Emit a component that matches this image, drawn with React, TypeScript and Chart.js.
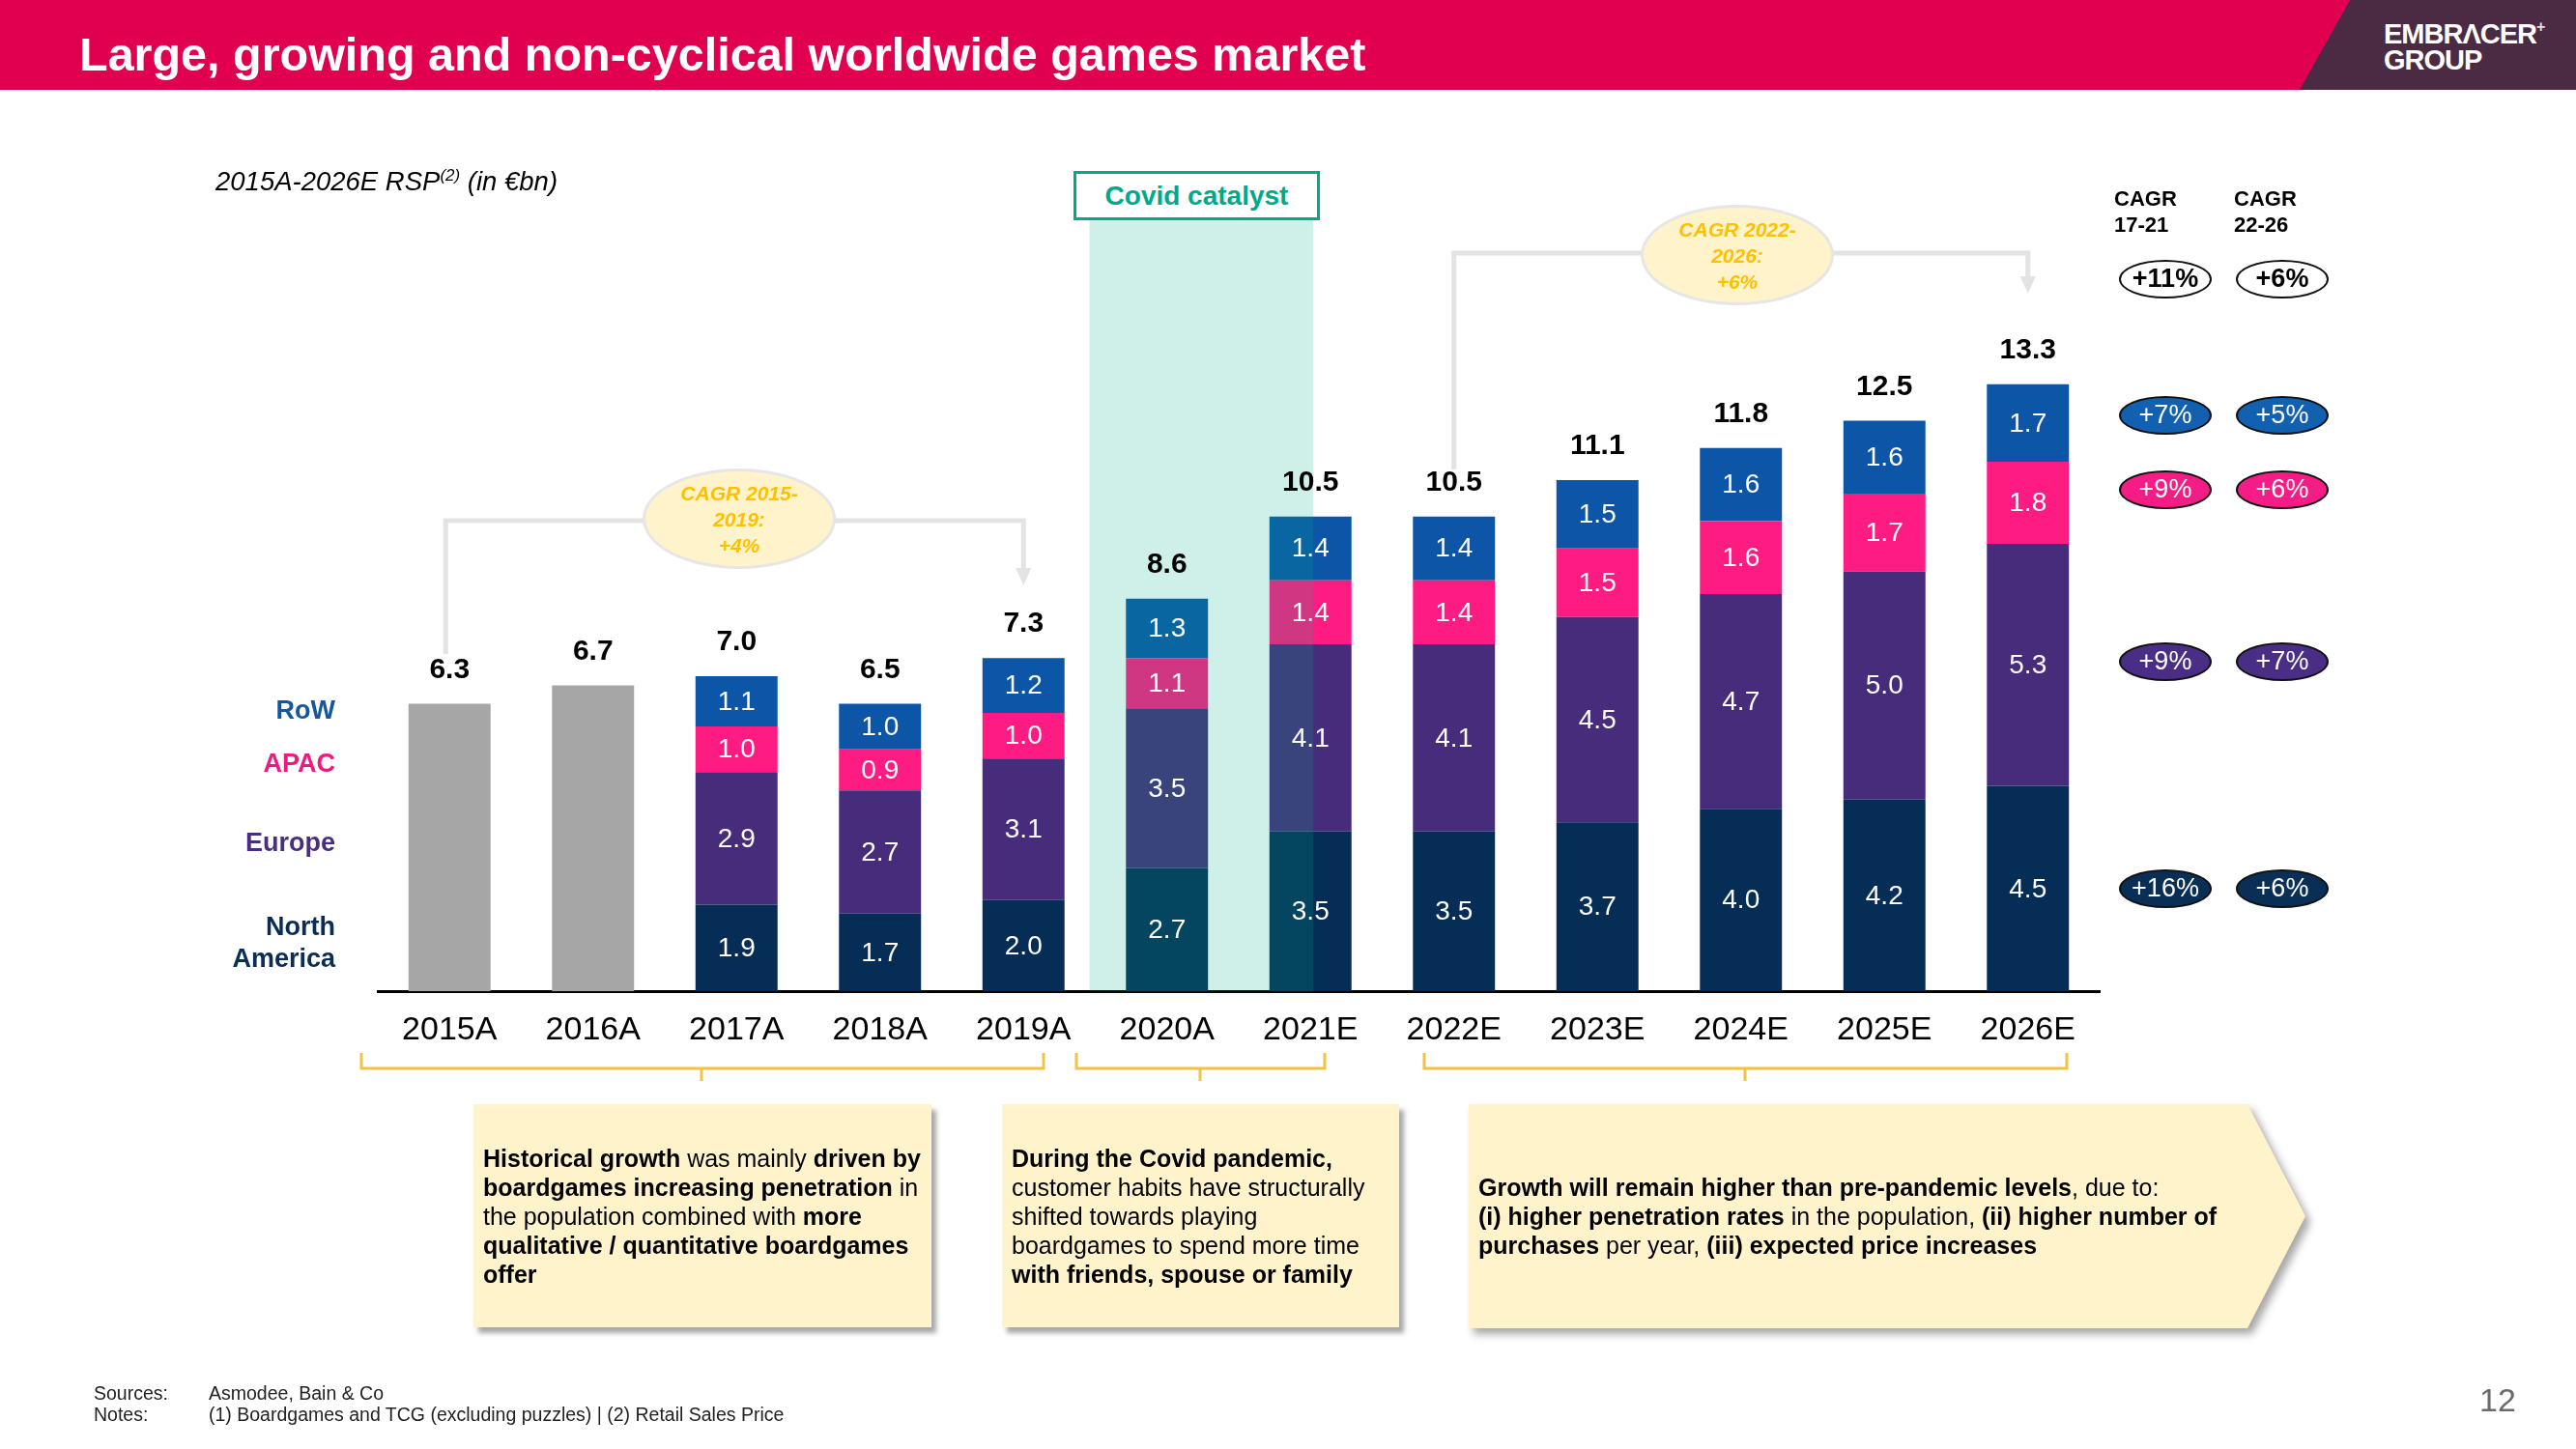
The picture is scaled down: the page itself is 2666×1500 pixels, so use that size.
import React, { useEffect, useRef } from 'react';
import { Chart, registerables } from 'chart.js';

Chart.register(...registerables);

const FONT = '"Liberation Sans", Arial, Helvetica, sans-serif';

// ---------- DATA ----------
const years = ['2015A', '2016A', '2017A', '2018A', '2019A', '2020A', '2021E', '2022E', '2023E', '2024E', '2025E', '2026E'];
const unsplitTotal = [6.3, 6.7, null, null, null, null, null, null, null, null, null, null];
const northAmerica = [null, null, 1.9, 1.7, 2.0, 2.7, 3.5, 3.5, 3.7, 4.0, 4.2, 4.5];
const europe = [null, null, 2.9, 2.7, 3.1, 3.5, 4.1, 4.1, 4.5, 4.7, 5.0, 5.3];
const apac = [null, null, 1.0, 0.9, 1.0, 1.1, 1.4, 1.4, 1.5, 1.6, 1.7, 1.8];
const restOfWorld = [null, null, 1.1, 1.0, 1.2, 1.3, 1.4, 1.4, 1.5, 1.6, 1.6, 1.7];
const totalLabels = [6.3, 6.7, 7.0, 6.5, 7.3, 8.6, 10.5, 10.5, 11.1, 11.8, 12.5, 13.3];

const cagrHeaders = [['CAGR', '17-21'], ['CAGR', '22-26']];
const cagr1721 = ['+11%', '+7%', '+9%', '+9%', '+16%'];
const cagr2226 = ['+6%', '+5%', '+6%', '+7%', '+6%'];
const regionNames = ['RoW', 'APAC', 'Europe', 'North America'];

// ---------- STYLE ----------
const C_NA = '#062D56';
const C_EU = '#472C7B';
const C_APAC = '#FF1C82';
const C_ROW = '#0C55A7';
const C_GRAY = '#A6A6A6';
const C_RED = '#E1004F';
const C_PLUM = '#4B2B43';
const C_GREEN = '#00A98A';

const decorPlugin = {
  id: 'slideDecor',
  afterDatasetsDraw(chart: any) {
    const { ctx, chartArea } = chart;
    const xs = chart.scales.x;
    const step = xs.getPixelForValue(1) - xs.getPixelForValue(0);
    ctx.save();
    // covid overlay
    const l = xs.getPixelForValue(5) - 0.54 * step;
    const r = xs.getPixelForValue(6) + 0.02 * step;
    ctx.fillStyle = 'rgba(0,176,139,0.19)';
    ctx.fillRect(l, 228, r - l, chartArea.bottom - 228);

    // segment labels
    ctx.font = `28px ${FONT}`;
    ctx.fillStyle = '#fff';
    ctx.textAlign = 'center';
    ctx.textBaseline = 'middle';
    chart.data.datasets.forEach((ds: any, di: number) => {
      if (di === 0) return;
      const meta = chart.getDatasetMeta(di);
      meta.data.forEach((el: any, j: number) => {
        const v = ds.data[j];
        if (v == null) return;
        const p = el.getProps(['x', 'y', 'base'], true);
        ctx.fillText(Number(v).toFixed(1), p.x, (p.y + p.base) / 2 + 1);
      });
    });

    // totals
    ctx.font = `bold 30px ${FONT}`;
    ctx.fillStyle = '#000';
    years.forEach((_, j) => {
      let top = Infinity;
      let bx = 0;
      chart.data.datasets.forEach((ds: any, di: number) => {
        if (ds.data[j] == null) return;
        const el = chart.getDatasetMeta(di).data[j];
        const p = el.getProps(['x', 'y'], true);
        if (p.y < top) { top = p.y; bx = p.x; }
      });
      if (top < Infinity) ctx.fillText(totalLabels[j].toFixed(1), bx, top - 35);
    });
    ctx.restore();
  },
  afterDraw(chart: any) {
    const { ctx } = chart;
    const xs = chart.scales.x;
    const px = (i: number) => xs.getPixelForValue(i);
    ctx.save();
    // connectors
    ctx.strokeStyle = '#E3E3E3';
    ctx.fillStyle = '#E3E3E3';
    ctx.lineWidth = 5;
    const conn = (x1: number, yStart: number, yTop: number, x2: number, yTip: number) => {
      ctx.beginPath();
      ctx.moveTo(x1, yStart);
      ctx.lineTo(x1, yTop);
      ctx.lineTo(x2, yTop);
      ctx.lineTo(x2, yTip - 16);
      ctx.stroke();
      ctx.beginPath();
      ctx.moveTo(x2 - 8, yTip - 18);
      ctx.lineTo(x2 + 8, yTip - 18);
      ctx.lineTo(x2, yTip);
      ctx.closePath();
      ctx.fill();
    };
    conn(px(0) - 4, 677, 539, px(4), 606);
    conn(px(7), 486, 262, px(11), 304);

    // brackets
    ctx.strokeStyle = '#F0C245';
    ctx.lineWidth = 3;
    const brackets = [[374, 1080, 726], [1114, 1371, 1242], [1474, 2139, 1806]];
    brackets.forEach(([a, b, m]) => {
      ctx.beginPath();
      ctx.moveTo(a, 1090);
      ctx.lineTo(a, 1106);
      ctx.lineTo(b, 1106);
      ctx.lineTo(b, 1090);
      ctx.moveTo(m, 1106);
      ctx.lineTo(m, 1119);
      ctx.stroke();
    });
    ctx.restore();
  },
};

function Txt(props: any) {
  const { x, y, size, align = 'left', bold, italic, color = '#000', children } = props;
  const L = Math.round(size * 1.2);
  const transform = align === 'center' ? 'translateX(-50%)' : align === 'right' ? 'translateX(-100%)' : undefined;
  return (
    <div
      style={{
        position: 'absolute',
        left: x,
        top: y - L / 2,
        fontSize: size,
        lineHeight: `${L}px`,
        fontWeight: bold ? 700 : 400,
        fontStyle: italic ? 'italic' : 'normal',
        color,
        whiteSpace: 'nowrap',
        transform,
        textAlign: align,
      }}
    >
      {children}
    </div>
  );
}

function Bubble(props: any) {
  const { cx, cy, lines } = props;
  return (
    <div
      style={{
        position: 'absolute',
        left: cx - 100,
        top: cy - 52,
        width: 200,
        height: 104,
        boxSizing: 'border-box',
        borderRadius: '50%',
        background: '#FFF3CB',
        border: '3px solid #E6E6E6',
        display: 'flex',
        alignItems: 'center',
        justifyContent: 'center',
        textAlign: 'center',
        color: '#FFC000',
        fontStyle: 'italic',
        fontWeight: 700,
        fontSize: 21,
        lineHeight: '27px',
      }}
    >
      <div>
        {lines.map((s: string, i: number) => (
          <div key={i}>{s}</div>
        ))}
      </div>
    </div>
  );
}

function Pill(props: any) {
  const { cx, cy, bg, color, bold, text } = props;
  return (
    <div
      style={{
        position: 'absolute',
        left: cx - 48,
        top: cy - 20,
        width: 96,
        height: 40,
        boxSizing: 'border-box',
        borderRadius: '50%',
        background: bg,
        border: '2.5px solid #111',
        color,
        fontWeight: bold ? 700 : 400,
        fontSize: 27,
        lineHeight: '35px',
        textAlign: 'center',
      }}
    >
      {text}
    </div>
  );
}

const boxBase: any = {
  position: 'absolute',
  top: 1143,
  height: 231,
  boxSizing: 'border-box',
  background: '#FEF3CB',
  display: 'flex',
  alignItems: 'center',
  paddingLeft: 10,
  fontSize: 25,
  lineHeight: '30px',
  color: '#000',
  whiteSpace: 'nowrap',
};

export default function App() {
  const ref = useRef<HTMLCanvasElement>(null);

  useEffect(() => {
    document.body.style.margin = '0';
    Chart.defaults.font.family = FONT;
    const chart = new Chart(ref.current as HTMLCanvasElement, {
      type: 'bar',
      data: {
        labels: years,
        datasets: [
          { label: 'Total', data: unsplitTotal as any, backgroundColor: C_GRAY },
          { label: 'North America', data: northAmerica as any, backgroundColor: C_NA },
          { label: 'Europe', data: europe as any, backgroundColor: C_EU },
          { label: 'APAC', data: apac as any, backgroundColor: C_APAC },
          { label: 'RoW', data: restOfWorld as any, backgroundColor: C_ROW },
        ],
      },
      options: {
        responsive: false,
        animation: false,
        datasets: { bar: { categoryPercentage: 1, barPercentage: 0.572, borderWidth: 0 } },
        layout: { padding: { left: 391, right: 493, top: 81, bottom: 393 } },
        plugins: { legend: { display: false }, tooltip: { enabled: false } },
        scales: {
          x: {
            stacked: true,
            grid: { display: false, drawTicks: false },
            border: { display: true, color: '#000', width: 3 },
            ticks: { color: '#000', font: { size: 34, family: FONT }, padding: 20, maxRotation: 0, autoSkip: false },
          },
          y: { stacked: true, display: false, min: 0, max: 20 },
        },
      },
      plugins: [decorPlugin],
    });
    return () => chart.destroy();
  }, []);

  const rowYs = [289, 430, 507, 685, 920];
  const pillColors = ['#fff', '#1260B0', '#F51C85', '#4A2D85', '#0A2F57'];

  return (
    <div
      style={{
        position: 'fixed',
        left: 0,
        top: 0,
        width: 2666,
        height: 1500,
        background: '#fff',
        overflow: 'hidden',
        fontFamily: FONT,
      }}
    >
      {/* header */}
      <div style={{ position: 'absolute', left: 0, top: 0, width: 2666, height: 93, background: C_RED }} />
      <div
        style={{
          position: 'absolute',
          left: 2380,
          top: 0,
          width: 286,
          height: 93,
          background: C_PLUM,
          clipPath: 'polygon(52px 0, 100% 0, 100% 100%, 0 100%)',
        }}
      />
      <Txt x={82} y={56} size={48.5} bold color="#fff">Large, growing and non-cyclical worldwide games market</Txt>
      <Txt x={2467} y={35} size={29} bold color="#fff">
        <span style={{ letterSpacing: -1 }}>EMBRΛCER</span>
        <span style={{ fontSize: 16, verticalAlign: 'top', lineHeight: '20px', color: '#e8dce4' }}>+</span>
      </Txt>
      <Txt x={2467} y={62} size={29} bold color="#fff"><span style={{ letterSpacing: -1 }}>GROUP</span></Txt>

      <canvas ref={ref} width={2666} height={1500} style={{ position: 'absolute', left: 0, top: 0, width: 2666, height: 1500 }} />

      {/* subtitle */}
      <Txt x={223} y={187} size={27.5} italic>
        2015A-2026E RSP<sup style={{ fontSize: 17, lineHeight: 0 }}>(2)</sup> (in €bn)
      </Txt>

      {/* covid label */}
      <div
        style={{
          position: 'absolute',
          left: 1111,
          top: 177,
          width: 255,
          height: 51,
          boxSizing: 'border-box',
          border: `3px solid ${C_GREEN}`,
          background: '#fff',
          color: C_GREEN,
          fontWeight: 700,
          fontSize: 28,
          lineHeight: '45px',
          textAlign: 'center',
        }}
      >
        Covid catalyst
      </div>

      <Bubble cx={765} cy={537} lines={['CAGR 2015-', '2019:', '+4%']} />
      <Bubble cx={1798} cy={264} lines={['CAGR 2022-', '2026:', '+6%']} />

      {/* region labels */}
      <Txt x={347} y={735} size={27} bold color="#1556A0" align="right">{regionNames[0]}</Txt>
      <Txt x={347} y={790} size={27} bold color="#F0197D" align="right">{regionNames[1]}</Txt>
      <Txt x={347} y={872} size={27} bold color="#4B2D7F" align="right">{regionNames[2]}</Txt>
      <Txt x={347} y={959} size={27} bold color="#0A2D55" align="right">{regionNames[3].split(' ')[0]}</Txt>
      <Txt x={347} y={992} size={27} bold color="#0A2D55" align="right">{regionNames[3].split(' ')[1]}</Txt>

      {/* CAGR column */}
      {cagrHeaders.map((h, i) => (
        <React.Fragment key={i}>
          <Txt x={i === 0 ? 2188 : 2312} y={206} size={22} bold>{h[0]}</Txt>
          <Txt x={i === 0 ? 2188 : 2312} y={233} size={22} bold>{h[1]}</Txt>
        </React.Fragment>
      ))}
      {rowYs.map((y, i) => (
        <React.Fragment key={i}>
          <Pill cx={2241} cy={y} bg={pillColors[i]} color={i === 0 ? '#000' : '#fff'} bold={i === 0} text={cagr1721[i]} />
          <Pill cx={2362} cy={y} bg={pillColors[i]} color={i === 0 ? '#000' : '#fff'} bold={i === 0} text={cagr2226[i]} />
        </React.Fragment>
      ))}

      {/* text boxes */}
      <div style={{ ...boxBase, left: 490, width: 474, boxShadow: '5px 6px 5px rgba(0,0,0,0.35)' }}>
        <div>
          <b>Historical growth</b> was mainly <b>driven by</b>
          <br />
          <b>boardgames increasing penetration</b> in
          <br />
          the population combined with <b>more</b>
          <br />
          <b>qualitative / quantitative boardgames</b>
          <br />
          <b>offer</b>
        </div>
      </div>
      <div style={{ ...boxBase, left: 1037, width: 411, boxShadow: '5px 6px 5px rgba(0,0,0,0.35)' }}>
        <div>
          <b>During the Covid pandemic,</b>
          <br />
          customer habits have structurally
          <br />
          shifted towards playing
          <br />
          boardgames to spend more time
          <br />
          <b>with friends, spouse or family</b>
        </div>
      </div>
      <div style={{ position: 'absolute', left: 0, top: 0, filter: 'drop-shadow(5px 6px 4px rgba(0,0,0,0.35))' }}>
        <div
          style={{
            ...boxBase,
            left: 1520,
            width: 866,
            height: 232,
            clipPath: 'polygon(0 0, 806px 0, 100% 50%, 806px 100%, 0 100%)',
          }}
        >
          <div>
            <b>Growth will remain higher than pre-pandemic levels</b>, due to:
            <br />
            <b>(i) higher penetration rates</b> in the population, <b>(ii) higher number of</b>
            <br />
            <b>purchases</b> per year, <b>(iii) expected price increases</b>
          </div>
        </div>
      </div>

      {/* footer */}
      <Txt x={97} y={1442} size={19.5} color="#222">Sources:</Txt>
      <Txt x={97} y={1464} size={19.5} color="#222">Notes:</Txt>
      <Txt x={216} y={1442} size={19.5} color="#222">Asmodee, Bain &amp; Co</Txt>
      <Txt x={216} y={1464} size={19.5} color="#222">(1) Boardgames and TCG (excluding puzzles) | (2) Retail Sales Price</Txt>
      <Txt x={2585} y={1449} size={34} color="#6B6B6B" align="center">12</Txt>
    </div>
  );
}
